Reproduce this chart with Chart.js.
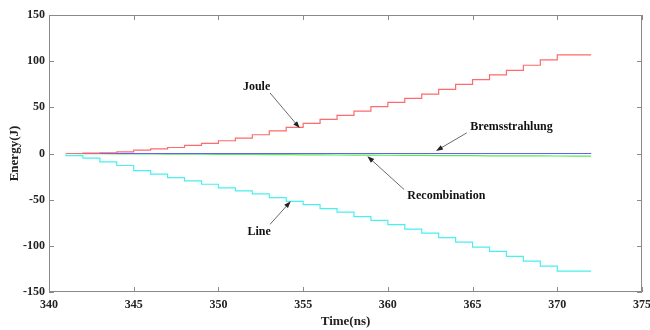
<!DOCTYPE html>
<html lang="en">
<head>
    <meta charset="UTF-8">
    <title>Energy vs Time</title>
    <script src="https://cdn.jsdelivr.net/npm/chart.js@4.4.1/dist/chart.umd.min.js"></script>
    <style>
        body {
            margin: 0;
            padding: 0;
            background: white;
        }
        .chart-box {
            width: 650px;
            height: 330px;
        }
    </style>
</head>
<body>
    <div class="chart-box">
        <canvas id="energyChart"></canvas>
    </div>

    <script>
        // step start times (ns); the last step ends at stepEnd
        const stepTimes = [341, 342, 343, 344, 345, 346, 347, 348, 349, 350,
                           351, 352, 353, 354, 355, 356, 357, 358, 359, 360,
                           361, 362, 363, 364, 365, 366, 367, 368, 369, 370, 371];
        const stepEnd = 372;

        // energy (J) held during each step
        const joule = [0, 0, 0.3, 0.8, 1.7, 3.6, 5.1, 6.5, 8.7, 10.9,
                       13.8, 16.7, 20.3, 24.6, 28.2, 32.6, 36.9, 41.3, 46.0, 50.7,
                       55.4, 59.7, 64.4, 69.5, 74.9, 80.0, 85.1, 90.1, 95.6, 101.4, 106.8];
        const lineRad = [-0.7, -2.2, -5.1, -9.1, -13.0, -18.5, -22.4, -26.1, -29.7, -33.3,
                         -37.3, -40.5, -43.8, -47.8, -51.8, -55.4, -59.7, -63.4, -68.4, -72.4,
                         -77.1, -81.8, -86.2, -91.2, -95.9, -101.4, -106.1, -111.5, -116.6, -122.0, -127.4];
        const bremsstrahlung = [0, 0, 0, 0, 0, 0, 0, 0, 0, 0,
                                0, 0, 0, 0, 0, 0, 0, 0, 0, 0,
                                0, 0, 0, 0, 0, 0, 0, 0, 0, 0, 0];
        const recombination = [0, -0.1, -0.2, -0.3, -0.4, -0.5, -0.6, -0.7, -0.8, -0.9,
                               -1.0, -1.1, -1.2, -1.3, -1.4, -1.5, -1.6, -1.7, -1.8, -1.9,
                               -2.0, -2.1, -2.2, -2.3, -2.4, -2.5, -2.5, -2.6, -2.6, -2.7, -2.8];

        const xTicks = [340, 345, 350, 355, 360, 365, 370, 375];
        const yTicks = [-150, -100, -50, 0, 50, 100, 150];

        // text arrows, in data units
        const notes = [
            { text: 'Joule', x: 352.25, y: 72, tx: 353.05, ty: 65.5, hx: 354.8, hy: 27.5 },
            { text: 'Bremsstrahlung', x: 367.3, y: 28.6, tx: 364.66, ty: 22.4, hx: 362.84, hy: 2.8 },
            { text: 'Recombination', x: 363.45, y: -45.6, tx: 360.96, ty: -39, hx: 358.79, hy: -2.9 },
            { text: 'Line', x: 352.4, y: -84.6, tx: 353.05, ty: -76.7, hx: 354.27, hy: -51.7 }
        ];

        function toPoints(vals) {
            const pts = stepTimes.map((t, i) => ({ x: t, y: vals[i] }));
            pts.push({ x: stepEnd, y: vals[vals.length - 1] });
            return pts;
        }

        const serif = '"Liberation Serif", "Times New Roman", serif';

        // MATLAB style box, inward ticks and text arrows
        const framePlugin = {
            id: 'frame',
            afterDatasetsDraw(chart) {
                const ctx = chart.ctx;
                const a = chart.chartArea;
                const xs = chart.scales.x;
                const ys = chart.scales.y;
                ctx.save();
                ctx.strokeStyle = '#8a8a8a';
                ctx.lineWidth = 1;
                ctx.strokeRect(a.left + 0.5, a.top + 0.5, a.right - a.left - 1, a.bottom - a.top - 1);
                ctx.beginPath();
                xTicks.forEach(v => {
                    const px = Math.round(xs.getPixelForValue(v)) + 0.5;
                    ctx.moveTo(px, a.bottom); ctx.lineTo(px, a.bottom - 5);
                    ctx.moveTo(px, a.top); ctx.lineTo(px, a.top + 5);
                });
                yTicks.forEach(v => {
                    const py = Math.round(ys.getPixelForValue(v)) + 0.5;
                    ctx.moveTo(a.left, py); ctx.lineTo(a.left + 5, py);
                    ctx.moveTo(a.right, py); ctx.lineTo(a.right - 5, py);
                });
                ctx.stroke();

                ctx.font = 'bold 12px ' + serif;
                ctx.textAlign = 'center';
                ctx.textBaseline = 'middle';
                notes.forEach(n => {
                    ctx.fillStyle = '#111';
                    ctx.fillText(n.text, xs.getPixelForValue(n.x), ys.getPixelForValue(n.y));
                    const x1 = xs.getPixelForValue(n.tx), y1 = ys.getPixelForValue(n.ty);
                    const x2 = xs.getPixelForValue(n.hx), y2 = ys.getPixelForValue(n.hy);
                    const ang = Math.atan2(y2 - y1, x2 - x1);
                    ctx.strokeStyle = '#444';
                    ctx.lineWidth = 0.8;
                    ctx.beginPath();
                    ctx.moveTo(x1, y1);
                    ctx.lineTo(x2 - 5 * Math.cos(ang), y2 - 5 * Math.sin(ang));
                    ctx.stroke();
                    ctx.fillStyle = '#222';
                    ctx.beginPath();
                    ctx.moveTo(x2, y2);
                    ctx.lineTo(x2 - 7 * Math.cos(ang) + 2.5 * Math.sin(ang), y2 - 7 * Math.sin(ang) - 2.5 * Math.cos(ang));
                    ctx.lineTo(x2 - 7 * Math.cos(ang) - 2.5 * Math.sin(ang), y2 - 7 * Math.sin(ang) + 2.5 * Math.cos(ang));
                    ctx.closePath();
                    ctx.fill();
                });
                ctx.restore();
            }
        };

        const lineStyle = { stepped: 'after', pointRadius: 0, borderWidth: 1.2, fill: false };

        new Chart(document.getElementById('energyChart'), {
            type: 'line',
            data: {
                datasets: [
                    Object.assign({ label: 'Joule', data: toPoints(joule), borderColor: '#ff6a6a', order: 1 }, lineStyle),
                    Object.assign({ label: 'Bremsstrahlung', data: toPoints(bremsstrahlung), borderColor: '#6060ff', order: 2 }, lineStyle),
                    Object.assign({ label: 'Recombination', data: toPoints(recombination), borderColor: '#5ae85a', order: 3 }, lineStyle, { stepped: false }),
                    Object.assign({ label: 'Line', data: toPoints(lineRad), borderColor: '#48f0f0', order: 4 }, lineStyle)
                ]
            },
            options: {
                responsive: true,
                maintainAspectRatio: false,
                animation: false,
                layout: { padding: { top: 15, right: 8, left: 0, bottom: 0 } },
                plugins: {
                    legend: { display: false },
                    tooltip: { enabled: false }
                },
                scales: {
                    x: {
                        type: 'linear',
                        min: 340,
                        max: 375,
                        afterFit: s => { s.height = 38; s.paddingLeft = 0; s.paddingRight = 0; },
                        afterBuildTicks: s => { s.ticks = xTicks.map(v => ({ value: v })); },
                        grid: { display: false, drawTicks: false },
                        border: { display: false },
                        ticks: {
                            padding: 6,
                            maxRotation: 0,
                            color: '#222',
                            font: { family: serif, size: 12, weight: 'bold' }
                        },
                        title: {
                            display: true,
                            text: 'Time(ns)',
                            color: '#222',
                            padding: { top: 0, bottom: 1 },
                            font: { family: serif, size: 13, weight: 'bold' }
                        }
                    },
                    y: {
                        min: -150,
                        max: 150,
                        afterFit: s => { s.width = 49; s.paddingTop = 0; s.paddingBottom = 0; },
                        afterBuildTicks: s => { s.ticks = yTicks.map(v => ({ value: v })); },
                        grid: { display: false, drawTicks: false },
                        border: { display: false },
                        ticks: {
                            padding: 4,
                            color: '#222',
                            font: { family: serif, size: 12, weight: 'bold' }
                        },
                        title: {
                            display: true,
                            text: 'Energy(J)',
                            color: '#222',
                            padding: { top: 7, bottom: 0 },
                            font: { family: serif, size: 13, weight: 'bold' }
                        }
                    }
                }
            },
            plugins: [framePlugin]
        });
    </script>
</body>
</html>
